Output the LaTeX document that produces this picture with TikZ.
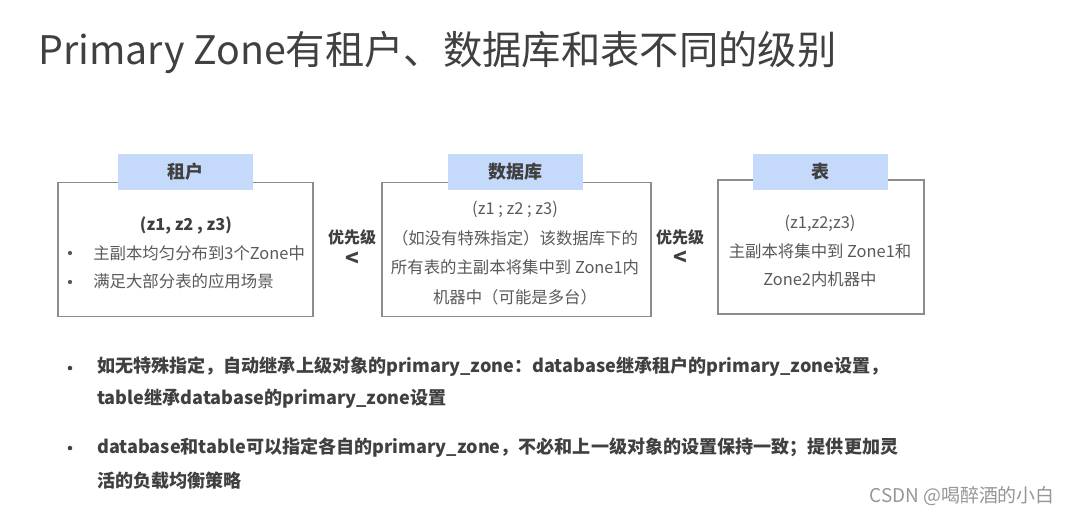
\documentclass[tikz,border=0pt]{standalone}
\usepackage{fontspec}
\setmainfont{Noto Sans CJK SC}
\definecolor{hdrblue}{RGB}{197,218,250}
\definecolor{boxgray}{RGB}{140,140,140}
\definecolor{txtgray}{RGB}{89,89,89}
\definecolor{txtdark}{RGB}{64,64,64}
\definecolor{wmgray}{RGB}{150,150,150}
\tikzset{
  box/.style={draw=boxgray, line width=0.9pt, rectangle, inner sep=0pt},
  hdr/.style={fill=hdrblue, rectangle, inner sep=0pt, minimum width=101.25pt, minimum height=27pt,
    text=txtdark, font=\bfseries\fontsize{13.5}{16}\selectfont},
  btxt/.style={text=txtgray, inner sep=0pt, font=\fontsize{12.3}{15}\selectfont},
  bbold/.style={text=txtdark, inner sep=0pt, font=\bfseries\fontsize{12.3}{15}\selectfont},
  prio/.style={text=txtdark, inner sep=0pt, font=\bfseries\fontsize{12}{15}\selectfont},
  lt/.style={text=txtdark, inner sep=0pt, font=\bfseries\fontsize{17}{18}\selectfont},
  note/.style={text=txtdark, inner sep=0pt, anchor=west, font=\bfseries\fontsize{13.55}{17}\selectfont},
  dot/.style={fill=txtgray, circle, inner sep=0pt, minimum size=3.2pt},
  ndot/.style={fill=txtdark, circle, inner sep=0pt, minimum size=3.4pt},
}
\begin{document}
\begin{tikzpicture}[x=0.75pt,y=-0.75pt]
\useasboundingbox (0,0) rectangle (1067,514);
% title
\node[anchor=base west, inner sep=0pt, text=txtdark, font=\fontsize{29.5}{34}\selectfont] (title) at (38,64) {Primary Zone有租户、数据库和表不同的级别};
% boxes
\node[box, minimum width=191.25pt, minimum height=100.5pt] (b1) at (185.5,249.5) {};
\node[box, minimum width=201.75pt, minimum height=100.5pt] (b2) at (516.5,249.5) {};
\node[box, minimum width=154.5pt, minimum height=100.5pt] (b3) at (821,247) {};
\node[hdr] (h1) at (185.5,171.5) {租户};
\node[hdr] (h2) at (515.5,171.5) {数据库};
\node[hdr] (h3) at (820.5,171.5) {表};
% box 1
\node[bbold] (t1a) at (186,225) {(z1, z2 , z3)};
\node[dot] (d1a) at (70,253) {};
\node[btxt, anchor=west] (t1b) at (93,253) {主副本均匀分布到3个Zone中};
\node[dot] (d1b) at (70,282) {};
\node[btxt, anchor=west] (t1c) at (93,281) {满足大部分表的应用场景};
% priority
\node[prio] (p1) at (352,237) {优先级};
\node[lt] (l1) at (352,259) {<};
\node[prio] (p2) at (680,237) {优先级};
\node[lt] (l2) at (680,258) {<};
% box 2
\node[btxt] (t2a) at (515,209) {(z1 ; z2 ; z3)};
\node[btxt] (t2b) at (515,238) {（如没有特殊指定）该数据库下的};
\node[btxt] (t2c) at (515,267) {所有表的主副本将集中到 Zone1内};
\node[btxt] (t2d) at (515,297) {机器中（可能是多台）};
% box 3
\node[btxt] (t3a) at (820,223) {(z1,z2;z3)};
\node[btxt] (t3b) at (820,251) {主副本将集中到 Zone1和};
\node[btxt] (t3c) at (820,279) {Zone2内机器中};
% notes
\node[ndot] (n1d) at (70,368) {};
\node[note] (n1a) at (97,367) {如无特殊指定，自动继承上级对象的primary\_zone：database继承租户的primary\_zone设置，};
\node[note] (n1b) at (97,399) {table继承database的primary\_zone设置};
\node[ndot] (n2d) at (70,448) {};
\node[note] (n2a) at (97,448) {database和table可以指定各自的primary\_zone，不必和上一级对象的设置保持一致；提供更加灵};
\node[note] (n2b) at (97,481) {活的负载均衡策略};
% watermark
\node[anchor=east, inner sep=0pt, text=wmgray, font=\fontsize{14.2}{16}\selectfont] (wm) at (1055,496) {CSDN @喝醉酒的小白};
\end{tikzpicture}
\end{document}
